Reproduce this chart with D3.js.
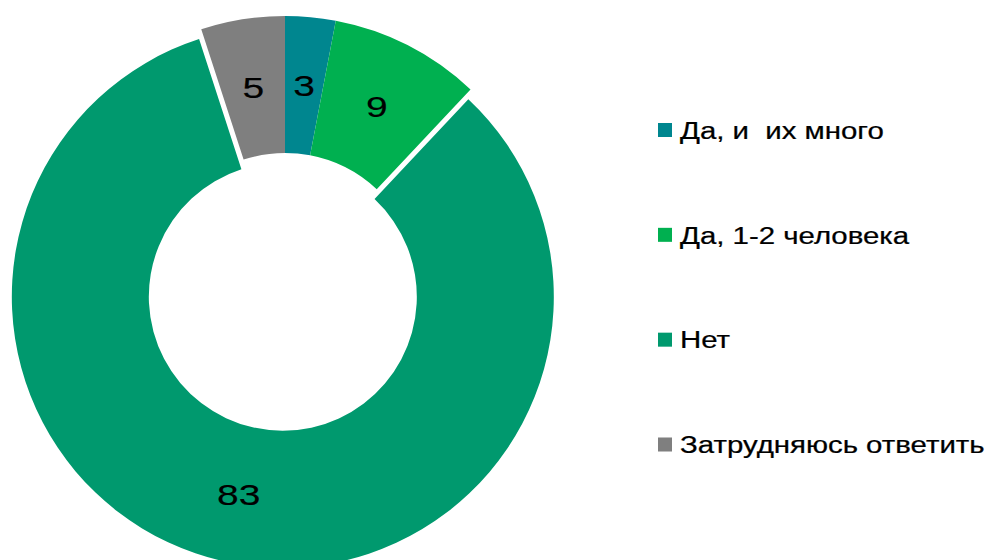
<!DOCTYPE html>
<html>
<head>
<meta charset="utf-8">
<script src="https://cdn.jsdelivr.net/npm/d3@7"></script>
<style>
  body { margin: 0; background: #fff; }
  text { font-family: "Liberation Sans", Arial, sans-serif; fill: #000; stroke: #000; white-space: pre; }
  text.value { stroke-width: 0.15px; }
  text.legend-label { stroke-width: 0.25px; }
</style>
</head>
<body>
<div class="container"></div>
<script>
// chart data
var categories = ["Да, и  их много", "Да, 1-2 человека", "Нет", "Затрудняюсь ответить"];
var values = [3, 9, 83, 5];
var colors = ["#00868F", "#00B050", "#00996E", "#7F7F7F"];
var explodedCategory = "Нет";

function drawChart() {
    var width = 987, height = 560;
    var cx = 285, cy = 287
        , outerR = 271, innerR = 134
        , explode = 10;

    var data = categories.map(function (c, i) {
        return { name: c, value: values[i], color: colors[i] };
    });

    var svg = d3.select(".container").append("svg")
        .attr("width", width)
        .attr("height", height);

    var pie = d3.pie().sort(null).value(function (d) { return d.value; });
    var arc = d3.arc().innerRadius(innerR).outerRadius(outerR);

    var arcs = pie(data);

    // offset for the pulled-out slice
    function shift(d) {
        if (d.data.name != explodedCategory) return [0, 0];
        var a = (d.startAngle + d.endAngle) / 2;
        return [Math.sin(a) * explode, -Math.cos(a) * explode];
    }

    var g = svg.append("g")
        .attr("transform", "translate(" + cx + "," + cy + ")");

    g.selectAll("path")
        .data(arcs)
        .enter()
        .append("path")
        .attr("fill", function (d) { return d.data.color; })
        .attr("transform", function (d) { var s = shift(d); return "translate(" + s[0] + "," + s[1] + ")"; })
        .attr("d", arc);

    // value labels in the middle of each ring slice
    g.selectAll("text.value")
        .data(arcs)
        .enter()
        .append("text")
        .attr("class", "value")
        .attr("transform", function (d) {
            var c = arc.centroid(d), s = shift(d);
            return "translate(" + (c[0] + s[0]) + "," + (c[1] + s[1]) + ") scale(1.3,1)";
        })
        .attr("text-anchor", "middle")
        .attr("dy", "0.36em")
        .style("font-size", "30px")
        .text(function (d) { return d.data.value; });

    // legend
    var y = d3.scalePoint()
        .domain(categories)
        .range([130, 444.5]);

    var legend = svg.append("g")
        .selectAll("g")
        .data(data)
        .enter()
        .append("g")
        .attr("transform", function (d) { return "translate(658," + y(d.name) + ")"; });

    legend.append("rect")
        .attr("x", 0)
        .attr("y", -7)
        .attr("width", 14)
        .attr("height", 14)
        .attr("fill", function (d) { return d.color; });

    legend.append("text")
        .attr("class", "legend-label")
        .attr("transform", "translate(22,0) scale(1.2,1)")
        .attr("dy", "0.36em")
        .style("font-size", "24.5px")
        .text(function (d) { return d.name; });
}

drawChart();
</script>
</body>
</html>
